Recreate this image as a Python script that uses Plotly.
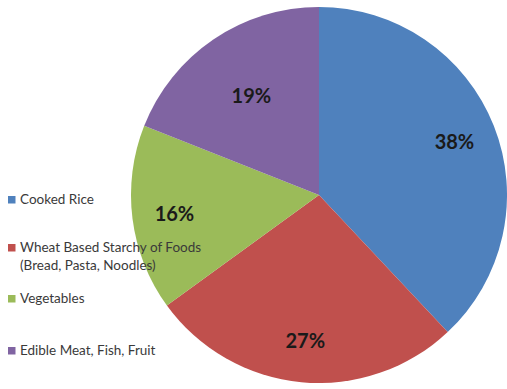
import plotly.graph_objects as go

categories = ["Cooked Rice",
              "Wheat Based Starchy of Foods<br>(Bread, Pasta, Noodles)",
              "Vegetables",
              "Edible Meat, Fish, Fruit"]
values = [38, 27, 16, 19]
colors = ["#4F81BD", "#C0504D", "#9BBB59", "#8064A2"]

W, H = 507, 389
dom = dict(x=[131 / W, 1.0], y=[1 - 386 / H, 1 - 4 / H])
LBL = "<b>%{percent:.0%}</b>"

fig = go.Figure()
# slices
fig.add_trace(go.Pie(
    labels=categories, values=values, sort=False, direction="clockwise",
    marker=dict(colors=colors, line=dict(width=0)),
    textinfo="none", domain=dom, showlegend=False, hoverinfo="label+percent",
))
# transparent rings carrying the percentage labels
for hole, tmpl in [(0.55, [LBL, LBL, LBL, ""]), (0.22, ["", "", "", LBL])]:
    fig.add_trace(go.Pie(
        labels=categories, values=values, sort=False, direction="clockwise",
        hole=hole,
        marker=dict(colors=["rgba(0,0,0,0)"] * len(values), line=dict(width=0)),
        texttemplate=tmpl,
        textposition="inside", insidetextorientation="horizontal",
        textfont=dict(family="Lato", size=20, color="#1a1a1a"),
        domain=dom, showlegend=False, hoverinfo="skip",
    ))

# manual legend (left side)
legend_y = [199, 256, 298, 350]
shapes, annotations = [], []
for cat, col, yc in zip(categories, colors, legend_y):
    ytop = yc - 3 if "<br>" not in cat else yc - 12
    shapes.append(dict(type="rect", xref="paper", yref="paper",
                       x0=8 / W, x1=15.5 / W,
                       y0=1 - (ytop + 7.5) / H, y1=1 - ytop / H,
                       fillcolor=col, line=dict(width=0)))
    annotations.append(dict(xref="paper", yref="paper", x=18 / W, y=1 - yc / H,
                            text=cat, showarrow=False, xanchor="left", yanchor="middle",
                            align="left",
                            font=dict(family="Lato", size=13.5, color="#3a3a3a")))

fig.update_layout(width=W, height=H, margin=dict(l=0, r=0, t=0, b=0),
                  paper_bgcolor="white", plot_bgcolor="white",
                  shapes=shapes, annotations=annotations)
fig.write_html("out.html")
